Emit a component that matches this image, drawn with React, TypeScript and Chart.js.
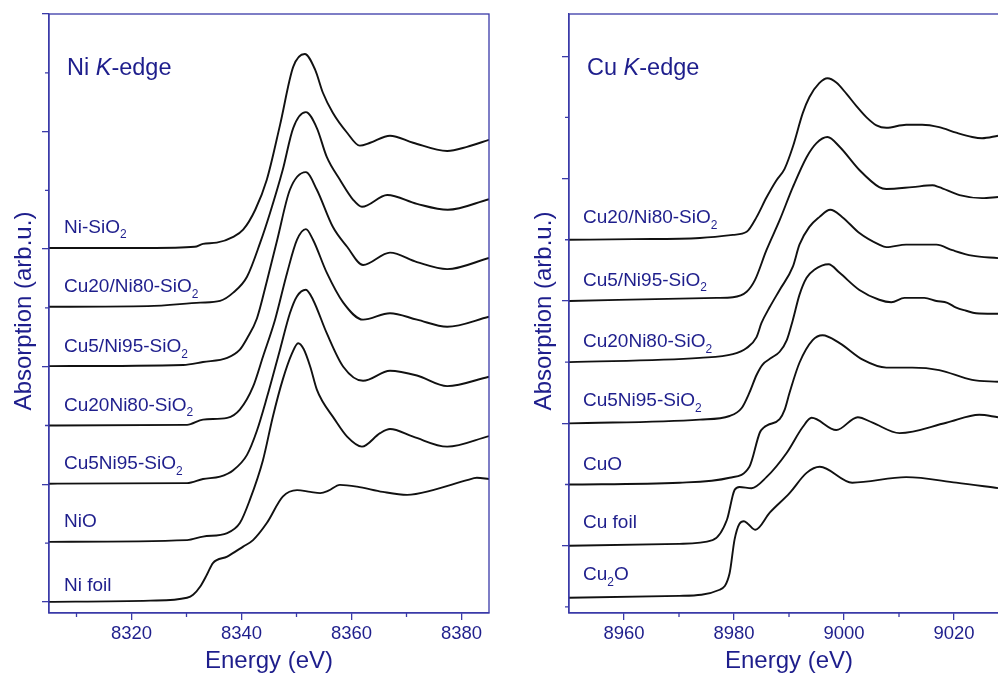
import React, { useEffect, useRef } from 'react';
import { Chart, registerables } from 'chart.js';

Chart.register(...registerables);

const TEXT = '#1e1e8c';
const AXIS = '#3a3aa8';
const FONT = '"Liberation Sans", Arial, sans-serif';

// ---------------- Ni K-edge ----------------
const niNames = ['Ni-SiO_{2}', 'Cu20/Ni80-SiO_{2}', 'Cu5/Ni95-SiO_{2}', 'Cu20Ni80-SiO_{2}', 'Cu5Ni95-SiO_{2}', 'NiO', 'Ni foil'];
const niOffsets = [6, 5, 4, 3, 2, 1, 0];
const niXTicks = [8320, 8340, 8360, 8380];
const niXMinor = [8310, 8330, 8350, 8370];
const niYMajor = [0, 2, 4, 6, 8, 10];
const niYMinor = [1, 3, 5, 7, 9];

const niSiO2E = [8305, 8323, 8331.5, 8333, 8335.5, 8338.5, 8340.3, 8342.5, 8344.6, 8347, 8349.4, 8351.5, 8353.4, 8354.8, 8356.6, 8359.2, 8361.5, 8363.4, 8367, 8371.2, 8377.4, 8381, 8385];
const niSiO2A = [0.02, 0.02, 0.04, 0.09, 0.11, 0.21, 0.33, 0.67, 1.18, 2.11, 3.10, 3.32, 3.05, 2.66, 2.32, 1.98, 1.76, 1.81, 1.93, 1.81, 1.67, 1.74, 1.86];

const niCu20sE = [8305, 8323, 8332.5, 8336.1, 8338.5, 8341, 8343.4, 8345.2, 8347.5, 8349.4, 8351.7, 8353.7, 8355.5, 8357.9, 8360.3, 8361.9, 8366.5, 8371.9, 8377.5, 8385];
const niCu20sA = [0.02, 0.03, 0.09, 0.12, 0.26, 0.53, 1.11, 1.62, 2.35, 3.06, 3.33, 3.06, 2.57, 2.18, 1.84, 1.72, 1.92, 1.77, 1.67, 1.85];

const niCu5sE = [8305, 8329.4, 8333, 8337.4, 8339.7, 8341, 8342.8, 8344.6, 8346.5, 8348.8, 8351.7, 8353.7, 8356.6, 8359.2, 8362.1, 8367, 8371.9, 8377.4, 8385];
const niCu5sA = [0.01, 0.03, 0.08, 0.15, 0.29, 0.48, 0.82, 1.45, 2.16, 3.01, 3.31, 3.01, 2.38, 2.04, 1.73, 1.94, 1.78, 1.66, 1.85];

const niCu20E = [8305, 8330.1, 8333, 8337.4, 8339.7, 8342.1, 8343.9, 8346.1, 8348.3, 8350.1, 8351.7, 8353, 8355.5, 8358.5, 8362.1, 8367, 8371.9, 8377.4, 8385];
const niCu20A = [0, 0.01, 0.10, 0.13, 0.27, 0.66, 1.17, 1.80, 2.60, 3.16, 3.34, 3.16, 2.60, 2.09, 1.80, 1.91, 1.80, 1.68, 1.85];

const niCu5E = [8305, 8330.1, 8333, 8336.1, 8338.5, 8341, 8342.8, 8344.6, 8347, 8348.8, 8350.1, 8351.7, 8353, 8355.5, 8358.5, 8362.1, 8367, 8371.9, 8377.4, 8385];
const niCu5A = [0.01, 0.02, 0.09, 0.13, 0.24, 0.50, 0.91, 1.47, 2.29, 2.91, 3.20, 3.31, 3.14, 2.57, 2.00, 1.76, 1.93, 1.85, 1.67, 1.83];

const niOE = [8305, 8330.1, 8333, 8337.4, 8339.7, 8341.5, 8343.9, 8345.7, 8347.5, 8349.2, 8350.3, 8351.3, 8352.5, 8353.7, 8354.8, 8356.6, 8359.2, 8361.9, 8365.2, 8367, 8371.2, 8377.4, 8385];
const niOA = [0.02, 0.05, 0.11, 0.17, 0.34, 0.73, 1.41, 2.15, 2.78, 3.23, 3.40, 3.30, 3.0, 2.61, 2.40, 2.15, 1.81, 1.64, 1.87, 1.94, 1.81, 1.64, 1.82];

const niFoilE = [8305, 8323.4, 8330.1, 8331.2, 8332.5, 8333.7, 8334.8, 8337.4, 8340.3, 8342.1, 8344.6, 8347.5, 8350.1, 8352.5, 8354.3, 8355.8, 8357.9, 8361, 8365.7, 8370.1, 8374.8, 8381, 8382.8, 8385];
const niFoilA = [0, 0.02, 0.07, 0.12, 0.26, 0.46, 0.66, 0.77, 0.94, 1.05, 1.34, 1.79, 1.90, 1.87, 1.85, 1.89, 1.99, 1.96, 1.87, 1.82, 1.90, 2.07, 2.11, 2.09];

// ---------------- Cu K-edge ----------------
const cuNames = ['Cu20/Ni80-SiO_{2}', 'Cu5/Ni95-SiO_{2}', 'Cu20Ni80-SiO_{2}', 'Cu5Ni95-SiO_{2}', 'CuO', 'Cu foil', 'Cu_{2}O'];
const cuOffsets = [6, 5, 4, 3, 2, 1, 0];
const cuXTicks = [8960, 8980, 9000, 9020];
const cuXMinor = [8970, 8990, 9010, 9030];
const cuYMajor = [1, 3, 5, 7, 9];
const cuYMinor = [0, 2, 4, 6, 8];

const cuCu20sE = [8950, 8961.6, 8973.8, 8979.8, 8982.3, 8984.1, 8985.9, 8987.7, 8989.2, 8990.7, 8992.5, 8993.7, 8995.5, 8997, 8998.6, 9000.5, 9002.3, 9004.1, 9005.9, 9007.7, 9011.3, 9014.2, 9017.3, 9020.4, 9023.3, 9025.1, 9028];
const cuCu20sA = [0, 0.01, 0.03, 0.08, 0.13, 0.37, 0.69, 0.97, 1.16, 1.52, 2.07, 2.33, 2.56, 2.64, 2.57, 2.38, 2.18, 2.00, 1.87, 1.83, 1.88, 1.88, 1.84, 1.75, 1.68, 1.66, 1.70];

const cuCu5sE = [8950, 8976.9, 8979.8, 8982.3, 8983.8, 8985.9, 8988.3, 8990.7, 8993.2, 8995, 8997, 8999.2, 9002.8, 9006.4, 9007.7, 9012.4, 9016.1, 9017.3, 9021, 9025.1, 9028];
const cuCu5sA = [0, 0.05, 0.06, 0.15, 0.34, 0.83, 1.32, 1.86, 2.35, 2.58, 2.68, 2.52, 2.14, 1.86, 1.83, 1.86, 1.89, 1.86, 1.73, 1.68, 1.70];

const cuCu20E = [8950, 8973.8, 8979.8, 8982.3, 8984.1, 8985, 8986.5, 8988.3, 8990.7, 8991.9, 8993.7, 8995.5, 8997.5, 8999.7, 9002.8, 9006.4, 9007.7, 9011.3, 9016.8, 9019.7, 9023.3, 9028];
const cuCu20A = [0, 0.07, 0.13, 0.23, 0.41, 0.64, 0.90, 1.18, 1.56, 1.92, 2.21, 2.37, 2.49, 2.37, 2.11, 1.92, 1.88, 1.92, 1.92, 1.83, 1.74, 1.70];

const cuCu5E = [8950, 8973.8, 8979.2, 8981.4, 8982.8, 8984.1, 8985.2, 8986.8, 8988.3, 8989.6, 8990.7, 8991.9, 8993.2, 8994.6, 8997.2, 8999.2, 9002.8, 9006.4, 9008.6, 9011, 9014.6, 9016.8, 9018.8, 9020.4, 9022.2, 9024, 9028];
const cuCu5A = [0, 0.06, 0.12, 0.25, 0.50, 0.79, 0.96, 1.07, 1.17, 1.36, 1.69, 2.10, 2.38, 2.51, 2.60, 2.46, 2.18, 2.02, 1.98, 2.05, 2.05, 2.00, 1.97, 1.89, 1.84, 1.80, 1.79];

const cuOE = [8950, 8970.1, 8979.2, 8982.8, 8984.7, 8985.4, 8986.1, 8988.3, 8989.2, 8990.1, 8991.9, 8994.3, 8996.1, 8999.2, 9003.4, 9007.7, 9012.4, 9017.3, 9023.3, 9028];
const cuOA = [0, 0.03, 0.11, 0.29, 0.85, 0.93, 0.97, 1.07, 1.22, 1.50, 1.99, 2.36, 2.44, 2.31, 2.04, 1.91, 1.91, 1.87, 1.71, 1.68];

const cuFoilE = [8950, 8970.1, 8976.1, 8978.7, 8980.1, 8981, 8983.2, 8985.9, 8989.6, 8992.5, 8994.1, 8998.6, 9002.5, 9005.2, 9010.1, 9018.6, 9024.6, 9028];
const cuFoilA = [0, 0.03, 0.09, 0.42, 0.91, 0.96, 0.94, 1.12, 1.52, 1.94, 2.09, 1.89, 2.10, 2.01, 1.84, 2.01, 2.14, 2.10];

const cu2OE = [8950, 8970.1, 8977.4, 8979.2, 8980.1, 8981, 8981.8, 8982.5, 8983.9, 8986.5, 8990.1, 8993.2, 8995.6, 9001.5, 9011.3, 9020.4, 9028];
const cu2OA = [0.15, 0.18, 0.28, 0.55, 1.10, 1.36, 1.40, 1.36, 1.26, 1.54, 1.86, 2.19, 2.29, 2.03, 2.12, 2.03, 1.94];

// label baselines, in y-axis units
const niLabelY = [6.28, 5.27, 4.25, 3.25, 2.26, 1.28, 0.19];
const cuLabelY = [6.27, 5.25, 4.25, 3.28, 2.24, 1.29, 0.44];

type Spec = {
  title: string;
  xMin: number; xMax: number; yMin: number; yMax: number;
  xTicks: number[]; xMinor: number[]; yMajor: number[]; yMinor: number[];
  names: string[]; offsets: number[]; energies: number[][]; abs: number[][];
  labelDx: number; labelY: number[];
};

const niSpec: Spec = {
  title: 'Ni *K*-edge',
  xMin: 8305, xMax: 8385, yMin: -0.19, yMax: 10,
  xTicks: niXTicks, xMinor: niXMinor, yMajor: niYMajor, yMinor: niYMinor,
  names: niNames, offsets: niOffsets,
  energies: [niSiO2E, niCu20sE, niCu5sE, niCu20E, niCu5E, niOE, niFoilE],
  abs: [niSiO2A, niCu20sA, niCu5sA, niCu20A, niCu5A, niOA, niFoilA],
  labelDx: 15, labelY: niLabelY,
};

const cuSpec: Spec = {
  title: 'Cu *K*-edge',
  xMin: 8950, xMax: 9030, yMin: -0.1, yMax: 9.69,
  xTicks: cuXTicks, xMinor: cuXMinor, yMajor: cuYMajor, yMinor: cuYMinor,
  names: cuNames, offsets: cuOffsets,
  energies: [cuCu20sE, cuCu5sE, cuCu20E, cuCu5E, cuOE, cuFoilE, cu2OE],
  abs: [cuCu20sA, cuCu5sA, cuCu20A, cuCu5A, cuOA, cuFoilA, cu2OA],
  labelDx: 14, labelY: cuLabelY,
};

function drawSubText(ctx: CanvasRenderingContext2D, text: string, x: number, y: number, size: number) {
  const parts = text.split(/(_\{[^}]*\})/);
  let cx = x;
  for (const p of parts) {
    if (!p) continue;
    if (p.startsWith('_{')) {
      const s = p.slice(2, -1);
      ctx.font = `${size * 0.63}px ${FONT}`;
      ctx.fillText(s, cx, y + size * 0.3);
      cx += ctx.measureText(s).width;
    } else {
      ctx.font = `${size}px ${FONT}`;
      ctx.fillText(p, cx, y);
      cx += ctx.measureText(p).width;
    }
  }
}

function drawItalicText(ctx: CanvasRenderingContext2D, text: string, x: number, y: number, size: number) {
  const parts = text.split(/(\*[^*]+\*)/);
  let cx = x;
  for (const p of parts) {
    if (!p) continue;
    const it = p.startsWith('*');
    const s = it ? p.slice(1, -1) : p;
    ctx.font = `${it ? 'italic ' : ''}${size}px ${FONT}`;
    ctx.fillText(s, cx, y);
    cx += ctx.measureText(s).width;
  }
}

function makeChart(canvas: HTMLCanvasElement, spec: Spec) {
  const decor = {
    id: 'decor',
    afterDraw(chart: any) {
      const { ctx, chartArea: a } = chart;
      const x = chart.scales.x;
      const y = chart.scales.y;
      ctx.save();
      ctx.strokeStyle = AXIS;
      ctx.lineWidth = 1.3;
      ctx.strokeRect(a.left, a.top, a.right - a.left, a.bottom - a.top);
      ctx.beginPath();
      for (const v of spec.xMinor) {
        const px = x.getPixelForValue(v);
        ctx.moveTo(px, a.bottom);
        ctx.lineTo(px, a.bottom + 4);
      }
      for (const v of spec.yMinor) {
        const py = y.getPixelForValue(v);
        ctx.moveTo(a.left, py);
        ctx.lineTo(a.left - 4, py);
      }
      ctx.stroke();

      ctx.fillStyle = TEXT;
      ctx.textBaseline = 'alphabetic';
      ctx.textAlign = 'left';
      drawItalicText(ctx, spec.title, a.left + 18, 75, 23.5);
      spec.names.forEach((n, i) => {
        drawSubText(ctx, n, a.left + spec.labelDx, y.getPixelForValue(spec.labelY[i]), 19);
      });

      ctx.font = `24px ${FONT}`;
      ctx.textAlign = 'center';
      ctx.fillText('Energy (eV)', (a.left + a.right) / 2, 668);
      ctx.save();
      ctx.translate(30.5, 311);
      ctx.rotate(-Math.PI / 2);
      ctx.fillText('Absorption (arb.u.)', 0, 0);
      ctx.restore();
      ctx.restore();
    },
  };

  const datasets = spec.names.map((n, i) => ({
    label: n.replace(/_\{([^}]*)\}/g, '$1'),
    data: spec.energies[i].map((e, j) => ({ x: e, y: spec.abs[i][j] + spec.offsets[i] })),
    borderColor: '#111',
    borderWidth: 1.9,
    pointRadius: 0,
    fill: false,
    cubicInterpolationMode: 'monotone' as const,
  }));

  return new Chart(canvas, {
    type: 'line',
    data: { datasets },
    options: {
      responsive: false,
      animation: false,
      events: [],
      layout: { padding: { left: 0, right: 9, top: 14, bottom: 0 } },
      plugins: { legend: { display: false }, tooltip: { enabled: false } },
      scales: {
        x: {
          type: 'linear',
          min: spec.xMin,
          max: spec.xMax,
          afterBuildTicks: (s: any) => { s.ticks = spec.xTicks.map((v) => ({ value: v })); },
          afterFit: (s: any) => { s.height = 60; },
          ticks: {
            font: { family: FONT, size: 18.5 },
            color: TEXT,
            padding: 3,
            maxRotation: 0,
            autoSkip: false,
            callback: (v: any) => String(v),
          },
          grid: { display: true, drawOnChartArea: false, drawTicks: true, tickLength: 7, color: AXIS, lineWidth: 1.3 },
          border: { display: true, color: AXIS, width: 1.3 },
        },
        y: {
          type: 'linear',
          min: spec.yMin,
          max: spec.yMax,
          afterBuildTicks: (s: any) => { s.ticks = spec.yMajor.map((v) => ({ value: v })); },
          afterFit: (s: any) => { s.width = 49; },
          ticks: { display: false },
          grid: { display: true, drawOnChartArea: false, drawTicks: true, tickLength: 7, color: AXIS, lineWidth: 1.3 },
          border: { display: true, color: AXIS, width: 1.3 },
        },
      },
    },
    plugins: [decor],
  } as any);
}

export default function App() {
  const leftRef = useRef<HTMLCanvasElement>(null);
  const rightRef = useRef<HTMLCanvasElement>(null);

  useEffect(() => {
    const c1 = makeChart(leftRef.current!, niSpec);
    const c2 = makeChart(rightRef.current!, cuSpec);
    return () => {
      c1.destroy();
      c2.destroy();
    };
  }, []);

  return (
    <div style={{ position: 'fixed', left: 0, top: 0, width: 998, height: 673, overflow: 'hidden', background: '#fff' }}>
      <canvas ref={leftRef} width={498} height={673} style={{ position: 'absolute', left: 0, top: 0, width: 498, height: 673 }} />
      <canvas ref={rightRef} width={498} height={673} style={{ position: 'absolute', left: 520, top: 0, width: 498, height: 673 }} />
    </div>
  );
}
